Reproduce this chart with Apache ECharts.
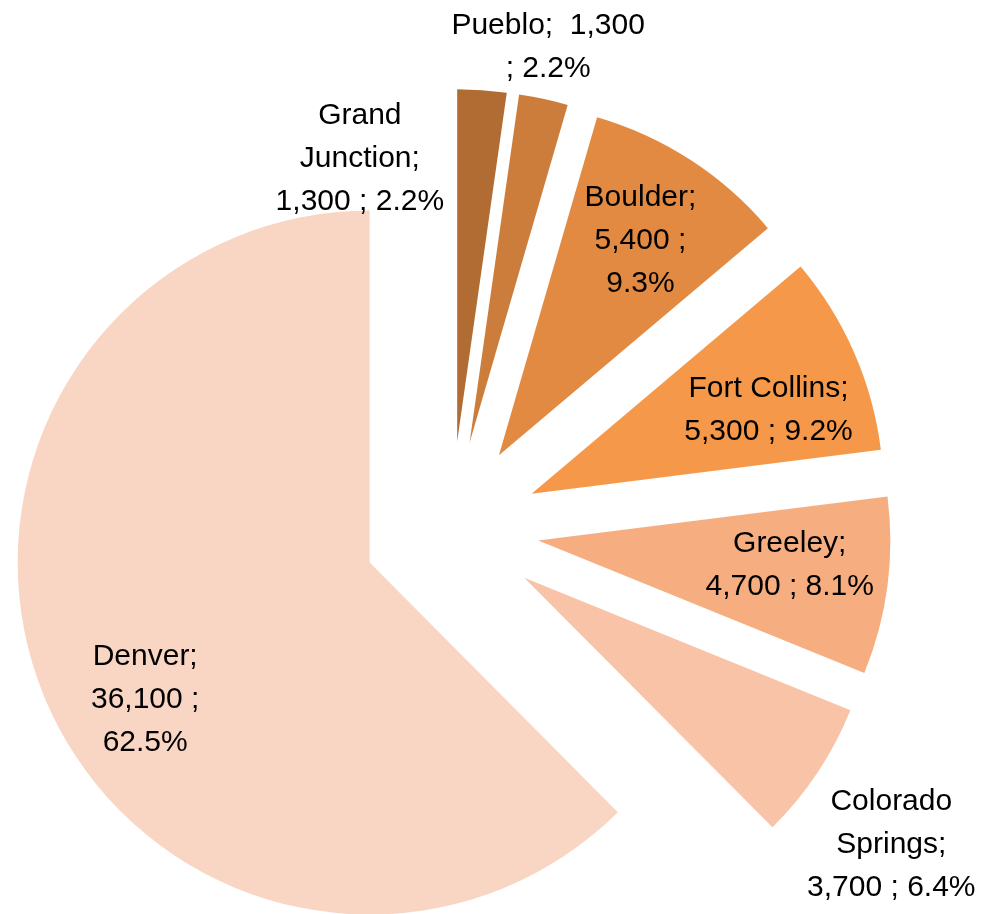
<!DOCTYPE html>
<html>
<head>
<meta charset="utf-8">
<style>
  html, body { margin: 0; padding: 0; background: #ffffff; }
  #chart { width: 992px; height: 914px; }
</style>
<script src="https://cdn.jsdelivr.net/npm/echarts@6/dist/echarts.min.js"></script>
</head>
<body>
<div id="chart"></div>
<script>
// Colorado cities, clockwise from 12 o'clock
const cities = ['Grand Junction', 'Pueblo', 'Boulder', 'Fort Collins', 'Greeley', 'Colorado Springs', 'Denver'];
const counts = [1300, 1300, 5400, 5300, 4700, 3700, 36100];

// label text layout ({v} = count, {p} = share)
const labelTemplates = [
  'Grand\nJunction;\n{v} ; {p}',
  'Pueblo;  {v}\n; {p}',
  'Boulder;\n{v} ;\n{p}',
  'Fort Collins;\n{v} ; {p}',
  'Greeley;\n{v} ; {p}',
  'Colorado\nSprings;\n{v} ; {p}',
  'Denver;\n{v} ;\n{p}'
];

const sliceColors = ['#B06C32', '#CD7D3B', '#E28A42', '#F59849', '#F6AE80', '#F8C3A7', '#F9D5C4'];
// label nudges from the default inside position
const labelShift = [[-110, -104], [41, -221], [44, -64], [73, -12], [74, 2], [218, 168], [-59, 69]];

const total = counts.reduce((a, b) => a + b, 0);

const chart = echarts.init(document.getElementById('chart'), null, { renderer: 'canvas' });

chart.setOption({
  animation: false,
  backgroundColor: '#ffffff',
  series: [{
    type: 'pie',
    center: [451, 529],
    radius: [0, 352],
    startAngle: 90,
    clockwise: true,
    selectedMode: 'multiple',
    selectedOffset: 88,
    avoidLabelOverlap: false,
    emphasis: { disabled: true },
    select: { itemStyle: { borderWidth: 0 } },
    itemStyle: { borderWidth: 0 },
    label: {
      show: true,
      position: 'inside',
      color: '#000000',
      fontFamily: "'Liberation Sans', Arial, sans-serif",
      fontSize: 30,
      lineHeight: 43,
      align: 'center',
      formatter: function (p) {
        const v = counts[p.dataIndex].toLocaleString('en-US');
        const pct = (counts[p.dataIndex] / total * 100).toFixed(1) + '%';
        return labelTemplates[p.dataIndex].replace('{v}', v).replace('{p}', pct);
      }
    },
    labelLine: { show: false },
    labelLayout: function (p) {
      const s = labelShift[p.dataIndex];
      return { dx: s[0], dy: s[1] };
    },
    data: cities.map((name, i) => ({
      name: name,
      value: counts[i],
      selected: true,
      itemStyle: { color: sliceColors[i] }
    }))
  }]
});
</script>
</body>
</html>
